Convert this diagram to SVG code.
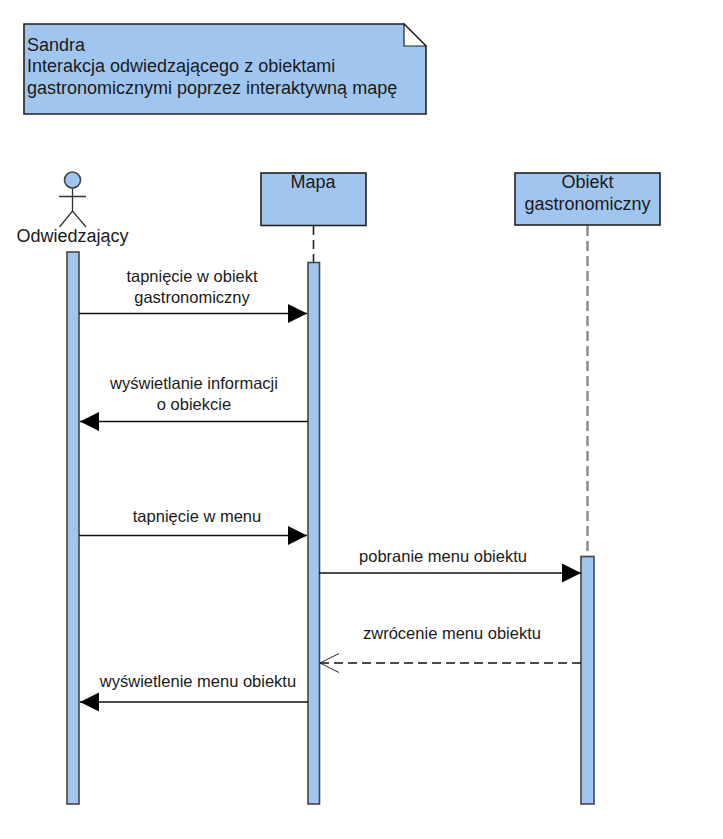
<svg xmlns="http://www.w3.org/2000/svg" width="723" height="839" viewBox="0 0 723 839">
<style>
text{font-family:"Liberation Sans",Arial,sans-serif;fill:#1a1a1a}
.n{font-size:18px}
.m{font-size:16.5px;text-anchor:middle}
.c{font-size:18px;text-anchor:middle}
.b{fill:#a0c6f0;stroke:#222;stroke-width:1.6}
.a{fill:#a0c6f0;stroke:#444;stroke-width:1.6}
.l{stroke:#111;stroke-width:1.6;fill:none}
</style>
<defs>
<marker id="f" markerUnits="userSpaceOnUse" markerWidth="20" markerHeight="20" refX="19" refY="10" orient="auto"><path d="M0 0.5L19 10L0 19.5Z" fill="#000"/></marker>
<marker id="o" markerUnits="userSpaceOnUse" markerWidth="20" markerHeight="20" refX="19" refY="10" orient="auto"><path d="M0 0.5L19 10L0 19.5" fill="none" stroke="#222" stroke-width="1"/></marker>
</defs>
<rect width="723" height="839" fill="#fff"/>
<g id="note">
<path class="b" d="M24 24H404L426 46V114H24Z"/>
<path d="M404 24L426 46H404Z" fill="#fff" stroke="#222" stroke-width="1.2"/>
<text class="n" x="27" y="50.500">Sandra</text>
<text class="n" x="27" y="72">Interakcja odwiedzającego z obiektami</text>
<text class="n" x="27" y="94">gastronomicznymi poprzez interaktywną mapę</text>
</g>
<g id="actor">
<circle cx="72.500" cy="180" r="8" class="a"/>
<path d="M72.500 188V211M59 196.500H86M59.500 227L72.500 211L86 227" fill="none" stroke="#333" stroke-width="1.300"/>
<text class="c" x="72.500" y="242">Odwiedzający</text>
</g>
<g id="mapa">
<line x1="313.500" y1="226" x2="313.500" y2="262" stroke="#222" stroke-width="1.600" stroke-dasharray="9 5"/>
<rect class="b" x="261" y="173" width="105" height="52.500"/>
<text class="c" x="313" y="188">Mapa</text>
</g>
<g id="obiekt">
<line x1="587.500" y1="226" x2="587.500" y2="556" stroke="#888" stroke-width="2.400" stroke-dasharray="10 5"/>
<rect class="b" x="515" y="173" width="145" height="52"/>
<text class="c" x="587.500" y="188">Obiekt</text>
<text class="c" x="587.500" y="210">gastronomiczny</text>
</g>
<g id="act1"><rect class="a" x="67" y="252" width="12" height="552"/></g>
<g id="act2"><rect class="a" x="308" y="262.500" width="11.500" height="541.500"/></g>
<g id="act3"><rect class="a" x="581" y="556.500" width="13" height="247.500"/></g>
<g id="connectors">
<line class="l" x1="79" y1="313.500" x2="307" y2="313.500" marker-end="url(#f)"/>
<line class="l" x1="308" y1="421.500" x2="80" y2="421.500" marker-end="url(#f)"/>
<line class="l" x1="79" y1="535.500" x2="307" y2="535.500" marker-end="url(#f)"/>
<line class="l" x1="319" y1="573" x2="581" y2="573" marker-end="url(#f)"/>
<line class="l" x1="581" y1="663" x2="320" y2="663" stroke-dasharray="9 5" marker-end="url(#o)"/>
<line class="l" x1="308" y1="702" x2="80" y2="702" marker-end="url(#f)"/>
</g>
<g id="labels">
<text class="m" x="192" y="281.500">tapnięcie w obiekt</text>
<text class="m" x="192" y="302.500">gastronomiczny</text>
<text class="m" x="194" y="389">wyświetlanie informacji</text>
<text class="m" x="194" y="410">o obiekcie</text>
<text class="m" x="197" y="522">tapnięcie w menu</text>
<text class="m" x="443" y="562">pobranie menu obiektu</text>
<text class="m" x="452" y="639">zwrócenie menu obiektu</text>
<text class="m" x="198" y="687">wyświetlenie menu obiektu</text>
</g>
</svg>
